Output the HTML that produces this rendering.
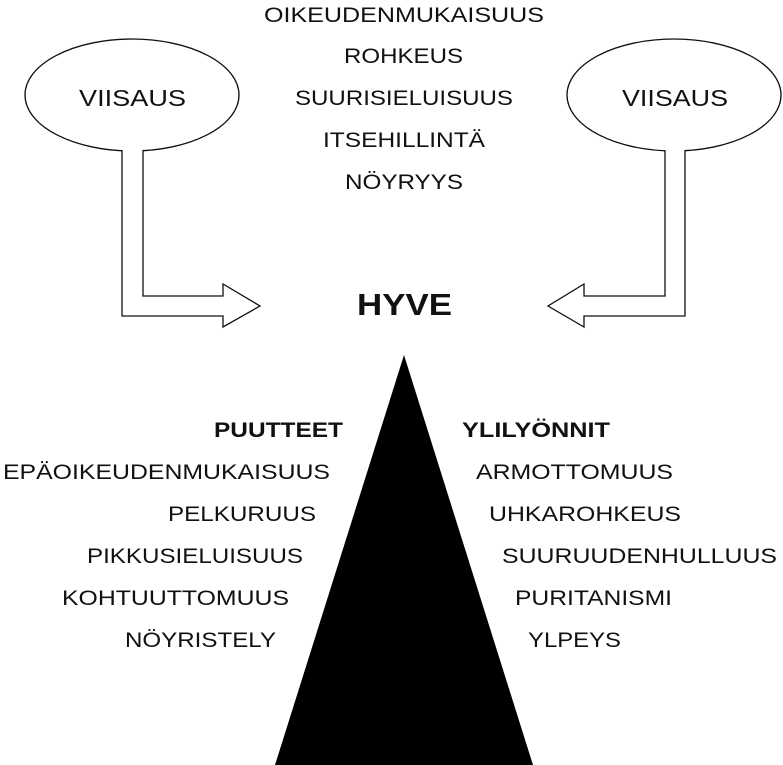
<!DOCTYPE html>
<html><head><meta charset="utf-8"><style>
html,body{margin:0;padding:0;background:#fff;}
svg{display:block;}
text{font-family:"Liberation Sans",sans-serif;font-size:21px;fill:#111;}
.b{font-weight:bold;}
</style></head><body>
<svg width="783" height="765" viewBox="0 0 783 765" xmlns="http://www.w3.org/2000/svg">
<g fill="#fff" stroke="#111" stroke-width="1.3">
<ellipse cx="132" cy="95" rx="107" ry="56"/>
<path d="M122,150 L122,316 L223,316 L223,327 L260,306 L223,284 L223,296 L143,296 L143,150"/>
<ellipse cx="674" cy="95" rx="107" ry="56"/>
<path d="M685,150 L685,316 L584,316 L584,327 L548,306 L584,284 L584,296 L665,296 L665,150"/>
</g>
<polygon points="404,355 275,765 533,765" fill="#000"/>
<text x="79" y="106" textLength="107" lengthAdjust="spacingAndGlyphs" style="font-size:23px">VIISAUS</text>
<text x="622" y="106" textLength="106" lengthAdjust="spacingAndGlyphs" style="font-size:23px">VIISAUS</text>
<text x="264" y="22" textLength="280" lengthAdjust="spacingAndGlyphs">OIKEUDENMUKAISUUS</text>
<text x="344" y="63" textLength="119" lengthAdjust="spacingAndGlyphs">ROHKEUS</text>
<text x="295" y="105" textLength="218" lengthAdjust="spacingAndGlyphs">SUURISIELUISUUS</text>
<text x="323" y="147" textLength="162" lengthAdjust="spacingAndGlyphs">ITSEHILLINTÄ</text>
<text x="345" y="189" textLength="118" lengthAdjust="spacingAndGlyphs">NÖYRYYS</text>
<text x="357" y="315" textLength="95" lengthAdjust="spacingAndGlyphs" class="b" style="font-size:31px">HYVE</text>
<text x="214" y="437" textLength="129" lengthAdjust="spacingAndGlyphs" class="b">PUUTTEET</text>
<text x="3" y="479" textLength="327" lengthAdjust="spacingAndGlyphs">EPÄOIKEUDENMUKAISUUS</text>
<text x="168" y="521" textLength="148" lengthAdjust="spacingAndGlyphs">PELKURUUS</text>
<text x="87" y="563" textLength="216" lengthAdjust="spacingAndGlyphs">PIKKUSIELUISUUS</text>
<text x="62" y="605" textLength="227" lengthAdjust="spacingAndGlyphs">KOHTUUTTOMUUS</text>
<text x="125" y="647" textLength="151" lengthAdjust="spacingAndGlyphs">NÖYRISTELY</text>
<text x="462" y="437" textLength="148" lengthAdjust="spacingAndGlyphs" class="b">YLILYÖNNIT</text>
<text x="476" y="479" textLength="197" lengthAdjust="spacingAndGlyphs">ARMOTTOMUUS</text>
<text x="489" y="521" textLength="192" lengthAdjust="spacingAndGlyphs">UHKAROHKEUS</text>
<text x="502" y="563" textLength="275" lengthAdjust="spacingAndGlyphs">SUURUUDENHULLUUS</text>
<text x="515" y="605" textLength="157" lengthAdjust="spacingAndGlyphs">PURITANISMI</text>
<text x="528" y="647" textLength="93" lengthAdjust="spacingAndGlyphs">YLPEYS</text>
</svg>
</body></html>
